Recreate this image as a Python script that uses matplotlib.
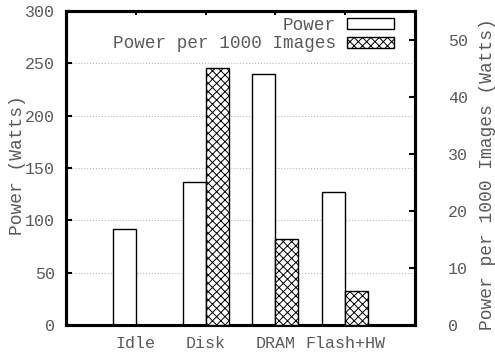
import numpy as np
import matplotlib
matplotlib.use("Agg")
import matplotlib.pyplot as plt

# data
categories = ["Idle", "Disk", "DRAM", "Flash+HW"]
power = [92, 137, 240, 127]
power_per_1000 = [0, 45, 15, 6]

plt.rcParams['font.family'] = ['Liberation Mono', 'DejaVu Sans Mono']
plt.rcParams['font.size'] = 12
plt.rcParams['hatch.linewidth'] = 0.7
txt = '#5a5a5a'

fig = plt.figure(figsize=(4.95, 3.56), dpi=100)
ax = fig.add_axes([0.1333, 0.087, 0.705, 0.882])
ax2 = ax.twinx()

x = np.arange(len(categories))
w = 0.33
b1 = ax.bar(x - w / 2, power, w, facecolor='white', edgecolor='black', lw=1,
            label='Power', zorder=3)
b2 = ax2.bar(x + w / 2, power_per_1000, w, facecolor='white', edgecolor='black',
             hatch='xxxx', lw=1, label='Power per 1000 Images', zorder=3)

ax.set_xlim(-1, 4)
ax.set_ylim(0, 300)
ax2.set_ylim(0, 55)
ax.set_yticks(range(0, 301, 50))
ax2.set_yticks(range(0, 51, 10))
ax.set_xticks(x)
ax.set_xticklabels(categories, color=txt)

ax.yaxis.grid(True, linestyle=':', color='#b8b8b8', lw=0.8, zorder=0)
ax.set_axisbelow(True)

for s in ax.spines.values():
    s.set_linewidth(2.2)
for s in ax2.spines.values():
    s.set_linewidth(2.2)

ax.tick_params(axis='y', direction='in', length=4, width=1.5, colors='black',
               labelcolor=txt, pad=8)
ax.tick_params(axis='x', direction='in', length=3, width=1.5, top=True,
               labelcolor=txt, pad=8)
ax2.tick_params(axis='y', direction='in', length=4, width=1.5,
                labelcolor=txt, pad=24)

# axis titles placed like the original
fig.text(18 / 495, 1 - 165 / 356, 'Power (Watts)', rotation=90, ha='center',
         va='center', color=txt, fontsize=13)
fig.text(487 / 495, 1 - 174 / 356, 'Power per 1000 Images (Watts)', rotation=90,
         ha='center', va='center', color=txt, fontsize=13)

ax2.legend([b1, b2], ['Power', 'Power per 1000 Images'], loc='upper right',
           bbox_to_anchor=(0.94, 0.982), frameon=False, markerfirst=False,
           handlelength=2.65, handleheight=0.55, labelspacing=0.1,
           borderaxespad=0, borderpad=0, handletextpad=0.65, labelcolor=txt,
           fontsize=12.7)

fig.savefig('out.png', dpi=100)
